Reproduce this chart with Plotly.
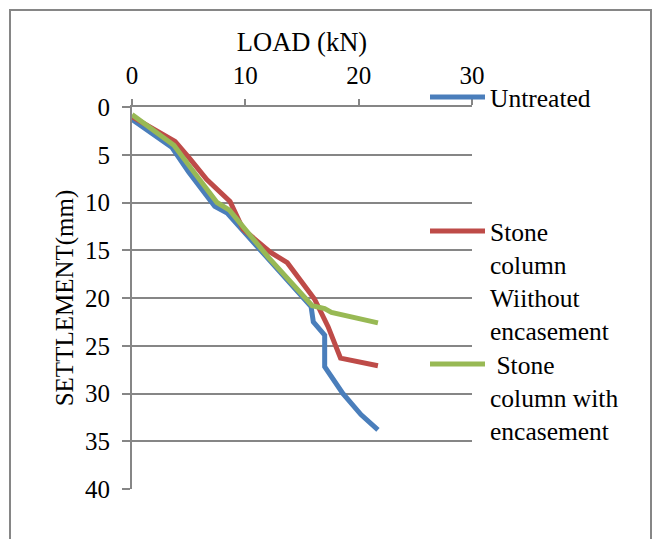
import plotly.graph_objects as go

# ---- data ----
load_untreated = [0, 3.5, 5.0, 7.3, 8.4, 12.0, 15.8, 16.0, 17.0, 17.0, 18.6, 20.2, 21.7]
settle_untreated = [1.3, 4.2, 6.8, 10.4, 11.1, 15.9, 20.9, 22.5, 23.9, 27.2, 30.0, 32.2, 33.8]

load_without = [0, 3.8, 5.1, 6.6, 8.65, 9.8, 12.2, 13.7, 16.1, 17.0, 17.3, 18.4, 21.7]
settle_without = [1.0, 3.6, 5.4, 7.6, 9.9, 12.8, 15.2, 16.3, 20.1, 22.3, 23.0, 26.3, 27.1]

load_with = [0, 3.7, 5.2, 7.5, 8.6, 12.0, 15.9, 17.0, 17.6, 20.1, 21.7]
settle_with = [0.8, 4.0, 6.4, 10.0, 10.8, 15.7, 20.8, 21.1, 21.5, 22.1, 22.6]

names = ["Untreated", "Stone<br>column<br>Wiithout<br>encasement", "\u00a0Stone<br>column with<br>encasement"]
colors = ["#4A7EBB", "#BE4B48", "#98B954"]
x_ticks = [0, 10, 20, 30]

FONT = "Liberation Serif"
GRID = "#868686"

fig = go.Figure()
series = [(load_untreated, settle_untreated), (load_without, settle_without), (load_with, settle_with)]
legends = ["legend", "legend2", "legend3"]
for (xs, ys), nm, c, lg in zip(series, names, colors, legends):
    fig.add_trace(go.Scatter(x=xs, y=ys, mode="lines", name=nm,
                             line=dict(color=c, width=5), legend=lg))

def px_to_paper_x(p):
    return (p - 132) / 340.0

def px_to_paper_y(p):
    return (489 - p) / 382.0

leg_common = dict(font=dict(family=FONT, size=25.5, color="black"), bgcolor="rgba(0,0,0,0)",
                  valign="top", itemwidth=55, xanchor="left", yanchor="top",
                  tracegroupgap=0, itemclick=False)

fig.update_layout(
    width=653, height=539,
    margin=dict(l=132, r=181, t=107, b=50),
    paper_bgcolor="white", plot_bgcolor="white",
    font=dict(family=FONT, size=25, color="black"),
    showlegend=True,
    legend=dict(x=px_to_paper_x(425), y=px_to_paper_y(74), **leg_common),
    legend2=dict(x=px_to_paper_x(425), y=px_to_paper_y(208), **leg_common),
    legend3=dict(x=px_to_paper_x(425), y=px_to_paper_y(341), **leg_common),
    xaxis=dict(range=[0, 30], side="top", tickvals=x_ticks, showgrid=False, zeroline=False,
               showline=True, linecolor=GRID, linewidth=2,
               ticks="outside", ticklen=6, tickwidth=2, tickcolor=GRID,
               tickfont=dict(family=FONT, size=25), ticklabelstandoff=5,
               title=dict(text="LOAD (kN)", font=dict(family=FONT, size=26.5), standoff=3)),
    yaxis=dict(range=[40, 0], dtick=5, showgrid=True, gridcolor=GRID, gridwidth=2, zeroline=False,
               showline=True, linecolor=GRID, linewidth=2,
               ticks="outside", ticklen=8, tickwidth=2, tickcolor=GRID,
               tickfont=dict(family=FONT, size=25), ticklabelstandoff=7,
               title=dict(text="SETTLEMENT(mm)", font=dict(family=FONT, size=25), standoff=4)),
    shapes=[dict(type="rect", xref="paper", yref="paper",
                 x0=px_to_paper_x(10), x1=px_to_paper_x(651),
                 y0=px_to_paper_y(560), y1=px_to_paper_y(10),
                 line=dict(color=GRID, width=2), fillcolor="rgba(0,0,0,0)", layer="below")],
)

fig.write_html("out.html")
